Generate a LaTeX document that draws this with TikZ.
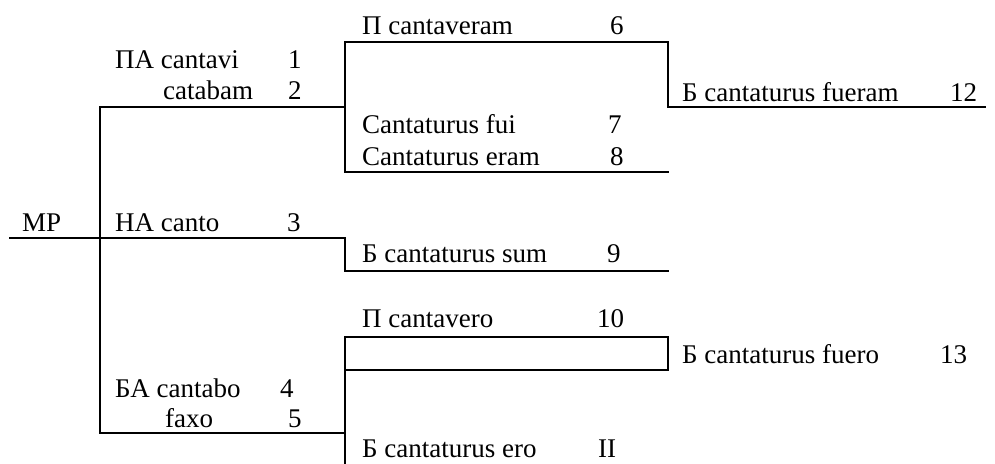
\documentclass[tikz,border=0pt]{standalone}
\usepackage{fontspec}
\setmainfont{Liberation Serif}
\begin{document}
\begin{tikzpicture}[x=1pt,y=-1pt,
  lbl/.style={anchor=base west,inner sep=0pt,font=\fontsize{27}{32}\selectfont},
  ln/.style={line width=2.2pt,line cap=rect}]
\useasboundingbox (0,0) rectangle (995,463);
% texts
\node[lbl] (mp) at (22,231) {МР};
\node[lbl] (pa) at (115,68) {ПА cantavi};
\node[lbl] (n1) at (288,68) {1};
\node[lbl] (cat) at (163,99) {catabam};
\node[lbl] (n2) at (288,99) {2};
\node[lbl] (ha) at (115,231) {НА canto};
\node[lbl] (n3) at (287,231) {3};
\node[lbl] (ba) at (115,397) {БА cantabo};
\node[lbl] (n4) at (280,397) {4};
\node[lbl] (faxo) at (165,427) {faxo};
\node[lbl] (n5) at (288,427) {5};
\node[lbl] (pcv) at (362,34) {П cantaveram};
\node[lbl] (n6) at (610,34) {6};
\node[lbl] (cf) at (362,133) {Cantaturus fui};
\node[lbl] (n7) at (608,133) {7};
\node[lbl] (ce) at (362,165) {Cantaturus eram};
\node[lbl] (n8) at (610,165) {8};
\node[lbl] (bcs) at (362,262) {Б cantaturus sum};
\node[lbl] (n9) at (607,262) {9};
\node[lbl] (pcvo) at (362,327) {П cantavero};
\node[lbl] (n10) at (597,327) {10};
\node[lbl] (bce) at (362,457) {Б cantaturus ero};
\node[lbl] (n11) at (598,457) {II};
\node[lbl] (bcf) at (682,101) {Б cantaturus fueram};
\node[lbl] (n12) at (950,101) {12};
\node[lbl] (bcfo) at (682,363) {Б cantaturus fuero};
\node[lbl] (n13) at (940,363) {13};
% corner coordinates
\coordinate (a0) at (10,238);
\coordinate (a1) at (345,238);
\coordinate (a2) at (345,271);
\coordinate (a3) at (668,271);
\coordinate (b0) at (100,107);
\coordinate (b1) at (100,433);
\coordinate (b2) at (345,107);
\coordinate (b3) at (345,433);
\coordinate (c0) at (345,42);
\coordinate (c1) at (668,42);
\coordinate (c2) at (668,107);
\coordinate (c3) at (985,107);
\coordinate (c4) at (345,172);
\coordinate (c5) at (668,172);
\coordinate (d0) at (345,337);
\coordinate (d1) at (668,370);
\coordinate (d2) at (345,370);
\coordinate (d3) at (345,463);
% lines
\draw[ln] (a0) -- (a1) -- (a2) -- (a3);
\draw[ln] (b2) -- (b0) -- (b1) -- (b3);
\draw[ln] (c4) -- (c0) -- (c1) -- (c2) -- (c3);
\draw[ln] (c4) -- (c5);
\draw[ln] (d0) rectangle (d1);
\draw[ln] (d2) -- (d3);
\end{tikzpicture}
\end{document}
